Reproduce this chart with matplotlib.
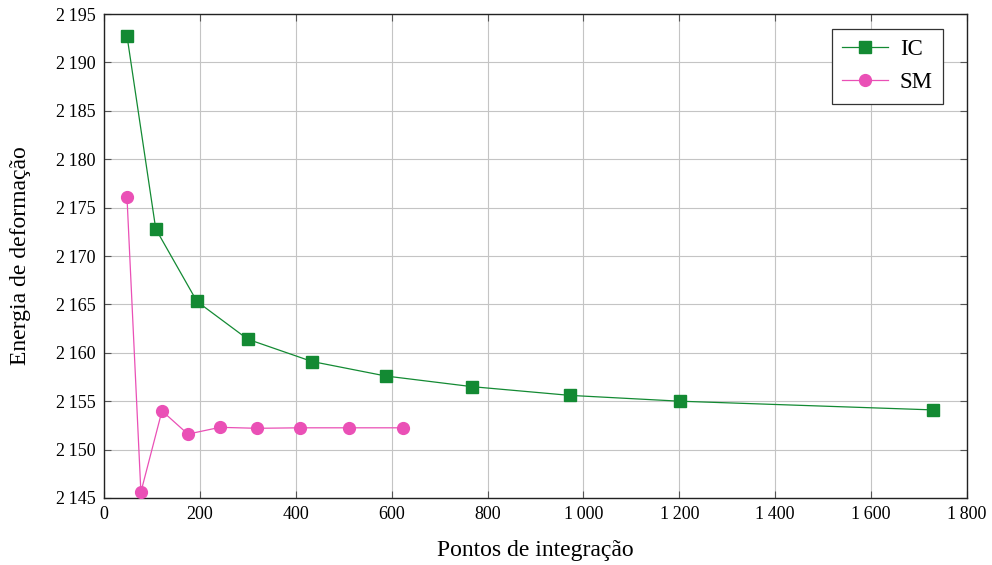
import matplotlib
matplotlib.use('Agg')
import matplotlib.pyplot as plt
from matplotlib.ticker import FuncFormatter

# data
ic_x = [48, 108, 194, 300, 434, 588, 768, 972, 1201, 1729]
ic_y = [2192.75, 2172.8, 2165.3, 2161.4, 2159.1, 2157.6, 2156.5, 2155.6, 2155.0, 2154.1]
sm_x = [48, 77, 121, 175, 242, 319, 409, 511, 624]
sm_y = [2176.1, 2145.6, 2154.0, 2151.6, 2152.3, 2152.2, 2152.25, 2152.25, 2152.25]

plt.rcParams['font.family'] = ['Liberation Serif', 'DejaVu Serif']

fig = plt.figure(figsize=(9.92, 5.65), dpi=100)
ax = fig.add_axes([0.1048, 0.1186, 0.8700, 0.8566])

green = '#138a33'
pink = '#ea50b6'
ax.plot(ic_x, ic_y, color=green, lw=0.9, marker='s', markersize=8.5,
        markeredgecolor=green, label='IC', zorder=3)
ax.plot(sm_x, sm_y, color=pink, lw=0.9, marker='o', markersize=8.5,
        markeredgecolor=pink, label='SM', zorder=3)

ax.set_xlim(0, 1800)
ax.set_ylim(2145, 2195)
ax.set_xticks(range(0, 1801, 200))
ax.set_yticks(range(2145, 2196, 5))

def fmt(v, pos):
    s = f'{int(round(v)):d}'
    if len(s) > 3:
        s = s[:-3] + '\u2009' + s[-3:]
    return s

ax.xaxis.set_major_formatter(FuncFormatter(fmt))
ax.yaxis.set_major_formatter(FuncFormatter(fmt))
ax.tick_params(direction='in', length=5, width=0.8, color='#555555',
               top=True, right=True, labelsize=13, pad=6)
ax.grid(True, color='#c4c4c4', lw=0.8)
ax.set_axisbelow(True)
for sp in ax.spines.values():
    sp.set_color('#222222')
    sp.set_linewidth(1.0)

ax.set_xlabel('Pontos de integração', fontsize=17, labelpad=12)
ax.set_ylabel('Energia de deformação', fontsize=17, labelpad=18)

leg = ax.legend(loc='upper right', fontsize=16.5, fancybox=False, framealpha=1,
                edgecolor='#333333', borderpad=0.45, handlelength=2.0,
                handletextpad=0.5, labelspacing=0.52, borderaxespad=0,
                bbox_to_anchor=(0.9722, 0.969))
leg.get_frame().set_linewidth(0.9)

fig.savefig('out.png', dpi=100)
